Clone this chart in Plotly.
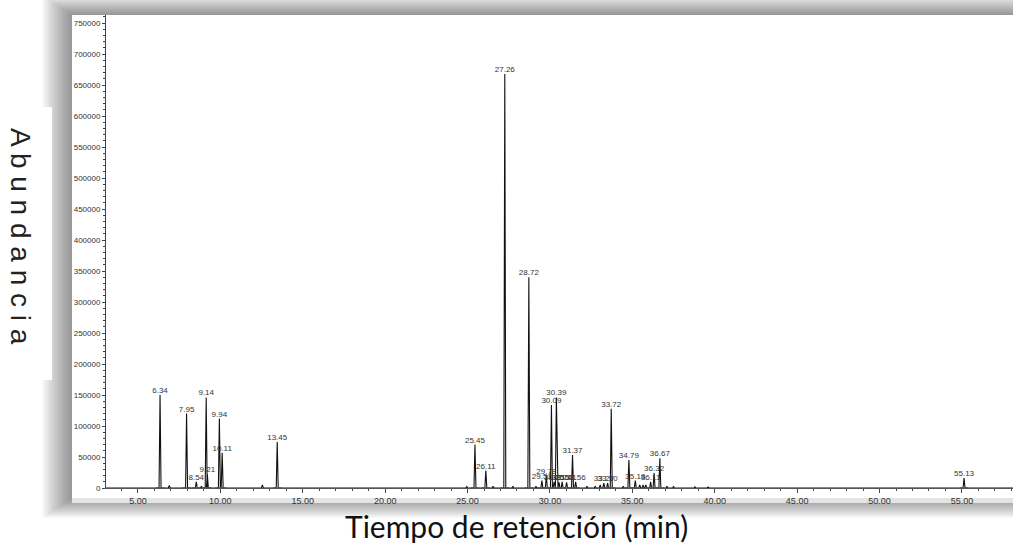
import plotly.graph_objects as go

# ---- data ----
labeled_rt = [6.34, 7.95, 8.54, 9.14, 9.21, 9.94, 10.11, 13.45, 25.45, 26.11,
              27.26, 28.72, 29.51, 29.78, 30.09, 30.25, 30.39, 30.55, 30.74,
              31.01, 31.37, 31.56, 33.27, 33.50, 33.72, 34.79, 35.18, 36.11,
              36.32, 36.67, 55.13]
labeled_abund = [150000, 120000, 10000, 146000, 22000, 112000, 57000, 74000, 70000, 28000,
                 668000, 340000, 12000, 20000, 134000, 10000, 146000, 9000, 10000,
                 9000, 53000, 10000, 8000, 8000, 128000, 45000, 12000, 10000,
                 24000, 48000, 16000]
minor_rt = [6.90, 8.85, 12.55, 24.95, 26.55, 27.75, 29.15, 32.25, 32.75, 33.05,
            34.45, 35.45, 35.65, 35.82, 37.10, 37.50, 38.80, 39.60]
minor_abund = [4000, 3000, 5000, 2500, 3000, 3000, 3000, 3000, 3000, 5000,
               3000, 5000, 5000, 5000, 3000, 2500, 2000, 1500]

x_ticks = [5, 10, 15, 20, 25, 30, 35, 40, 45, 50, 55]
y_ticks = list(range(0, 750001, 50000))

# ---- geometry helpers (pixels -> paper) ----
W, H = 1013, 543
L, R, T, B = 106, 0, 15, 55
PW, PH = W - L - R, H - T - B


def px(x):
    return (x - L) / PW


def py(y):
    return (H - B - y) / PH


# ---- build the chromatogram line ----
peaks = sorted(zip(labeled_rt + minor_rt, labeled_abund + minor_abund))
hw = 0.06
xs, ys = [3.06], [0]
for rt, h in peaks:
    xs += [rt - hw, rt, rt + hw]
    ys += [0, h, 0]
xs.append(58.1)
ys.append(0)

fig = go.Figure()
fig.add_trace(go.Scatter(x=xs, y=ys, mode="lines",
                         line=dict(color="#111111", width=1.1), hoverinfo="skip",
                         showlegend=False))
fig.add_trace(go.Scatter(x=labeled_rt, y=[0] * len(labeled_rt), mode="markers",
                         marker=dict(symbol="line-ew", size=6,
                                     line=dict(color="#3040ff", width=1.5)),
                         hoverinfo="skip", showlegend=False))
fig.add_trace(go.Scatter(x=labeled_rt, y=labeled_abund, mode="text",
                         text=[f"{v:.2f}" for v in labeled_rt],
                         textposition="top center",
                         textfont=dict(family="Liberation Sans, Arial", size=8,
                                       color="#333333"),
                         hoverinfo="skip", showlegend=False))

# ---- shadow / frame shapes ----
shapes = []
n = 20
for i in range(n, 0, -1):
    shapes.append(dict(type="rect", xref="paper", yref="paper", layer="below",
                       x0=px(72 - i * 1.5), x1=px(1013 + 30),
                       y0=py(498 + i * 1.0), y1=py(15 - i * 1.0),
                       line=dict(width=0), fillcolor="rgba(0,0,0,0.024)"))
shapes.append(dict(type="rect", xref="paper", yref="paper", layer="below",
                   x0=px(72), x1=px(1013 + 5), y0=py(503), y1=py(498),
                   line=dict(width=0), fillcolor="#e4e4e4"))
shapes.append(dict(type="rect", xref="paper", yref="paper", layer="below",
                   x0=px(72), x1=px(1013 + 5), y0=py(498), y1=py(15),
                   line=dict(width=0), fillcolor="white"))
shapes.append(dict(type="rect", xref="paper", yref="paper", layer="below",
                   x0=px(-2), x1=px(52), y0=py(380), y1=py(107),
                   line=dict(width=0), fillcolor="white"))

annotations = [
    dict(text="A b u n d a n c i a", xref="paper", yref="paper",
         x=px(20), y=py(236), xanchor="center", yanchor="middle",
         textangle=90, showarrow=False,
         font=dict(family="Liberation Sans, Arial", size=28, color="#222222")),
    dict(text="Tiempo de retención (min)", xref="paper", yref="paper",
         x=px(516), y=py(526), xanchor="center", yanchor="middle",
         showarrow=False,
         font=dict(family="Lato, Open Sans", size=30, color="#111111")),
]

fig.update_layout(
    width=W, height=H,
    margin=dict(l=L, r=R, t=T, b=B),
    paper_bgcolor="white", plot_bgcolor="rgba(0,0,0,0)",
    shapes=shapes, annotations=annotations,
    showlegend=False,
)
fig.update_xaxes(range=[3.06, 58.1], tickvals=x_ticks,
                 ticktext=[f"{v:.2f}" for v in x_ticks],
                 ticks="outside", ticklen=4, tickcolor="#444444",
                 showline=True, linecolor="#555555", linewidth=1,
                 showgrid=False, zeroline=False,
                 minor=dict(dtick=1, tick0=0, ticks="outside", ticklen=2,
                            tickcolor="#444444"),
                 tickfont=dict(family="Liberation Sans, Arial", size=9,
                               color="#333333"))
fig.update_yaxes(range=[0, 763000], tickvals=y_ticks,
                 ticktext=[str(v) for v in y_ticks],
                 ticks="outside", ticklen=3, tickcolor="#444444",
                 showline=True, linecolor="#444444", linewidth=1,
                 showgrid=False, zeroline=False,
                 minor=dict(dtick=10000, tick0=0, ticks="outside", ticklen=2,
                            tickcolor="#444444"),
                 tickfont=dict(family="Liberation Sans, Arial", size=8,
                               color="#333333"))

fig.write_html("out.html", config={"displayModeBar": False},
               post_script="document.body.style.margin='0';"
                           "document.body.style.overflow='hidden';")
